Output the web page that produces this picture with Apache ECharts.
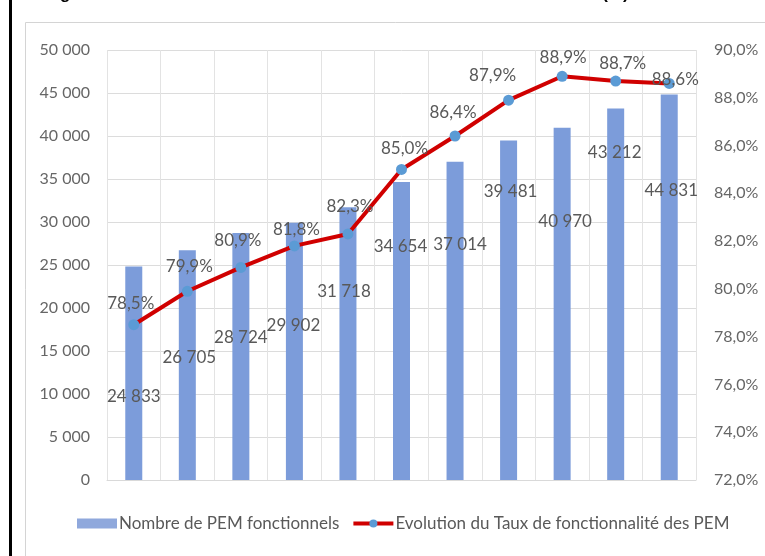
<!DOCTYPE html>
<html>
<head>
<meta charset="utf-8">
<script src="https://cdn.jsdelivr.net/npm/echarts@6/dist/echarts.min.js"></script>
<style>
  html, body { margin: 0; padding: 0; background: #fff; }
  #chart { width: 765px; height: 556px; }
</style>
</head>
<body>
<div id="chart"></div>
<script>
// Eleven observation points (axis labels are not shown)
const categories = ['1', '2', '3', '4', '5', '6', '7', '8', '9', '10', '11'];

// Number of functioning water points
const pemCount = [24833, 26705, 28724, 29902, 31718, 34654, 37014, 39481, 40970, 43212, 44831];

// Functionality rate (%)
const pemRate = [78.5, 79.9, 80.9, 81.8, 82.3, 85.0, 86.4, 87.9, 88.9, 88.7, 88.6];

// Axis ticks
const leftTicks = [0, 5000, 10000, 15000, 20000, 25000, 30000, 35000, 40000, 45000, 50000];
const rightTicks = [72, 74, 76, 78, 80, 82, 84, 86, 88, 90];

// Hand-placed label positions (px): bar labels [dx, dy from bar top], line labels [dx, dy from point]
const barLabelPos = [[0, 130], [2, 107], [0, 105], [-1, 103], [-4, 84], [-1, 65], [5, 83], [2, 51], [3, 94], [-1, 44], [2, 96]];
const lineLabelPos = [[-3, -21], [2, -25], [-3, -27], [2, -16], [2, -27], [3, -21], [-2, -23], [-16, -25], [1, -19], [7, -18], [6, -4]];

const fmtInt = v => String(v).replace(/\B(?=(\d{3})+(?!\d))/g, ' ');
const fmtPct = v => v.toFixed(1).replace('.', ',') + '%';

const FONT = 'Lato, "Open Sans", sans-serif';
const GREY = '#595959';

const barData = pemCount.map((v, i) => ({
  value: v,
  label: {
    position: [barLabelPos[i][0] + 8.5, barLabelPos[i][1]]
  }
}));

const lineData = pemRate.map((v, i) => ({
  value: v,
  label: { offset: lineLabelPos[i] }
}));

const chart = echarts.init(document.getElementById('chart'), null, { renderer: 'canvas' });

chart.setOption({
  backgroundColor: '#ffffff',
  animation: false,
  graphic: [
    { type: 'rect', shape: { x: 9, y: 0, width: 3, height: 556 }, style: { fill: '#000' }, silent: true },
    { type: 'rect', shape: { x: 25.5, y: 22.5, width: 760, height: 560 }, style: { fill: 'none', stroke: '#d4d4d4', lineWidth: 1 }, silent: true },
    {
      type: 'text', left: 45, top: -14,
      style: {
        text: 'Figure 3 : Evolution du nombre et du taux de fonctionnalité des PEM (%)',
        font: 'bold 17px "Liberation Sans", Arial, sans-serif', fill: '#000'
      },
      silent: true
    }
  ],
  grid: { left: 107, right: 69, top: 50, bottom: 76 },
  legend: {
    bottom: 19,
    left: 72,
    itemGap: 12,
    itemWidth: 40,
    itemHeight: 10,
    textStyle: { fontFamily: FONT, fontSize: 17, color: GREY, padding: [0, 0, 0, -3] },
    data: [
      { name: 'Nombre de PEM fonctionnels', icon: 'rect', itemStyle: { color: '#8fa8dc' } },
      { name: 'Evolution du Taux de fonctionnalité des PEM', lineStyle: { width: 4, color: '#d00000' } }
    ]
  },
  xAxis: {
    type: 'category',
    data: categories,
    boundaryGap: true,
    axisLine: { show: true, lineStyle: { color: '#d9d9d9' } },
    axisTick: { show: false },
    axisLabel: { show: false },
    splitLine: { show: true, lineStyle: { color: '#e3e3e3', width: 1 } }
  },
  yAxis: [
    {
      type: 'value',
      min: leftTicks[0],
      max: leftTicks[leftTicks.length - 1],
      interval: leftTicks[1] - leftTicks[0],
      axisLine: { show: false },
      axisTick: { show: false },
      axisLabel: { margin: 17, fontFamily: FONT, fontSize: 16, color: '#666', formatter: fmtInt },
      splitLine: { show: true, lineStyle: { color: '#dcdcdc', width: 1 } }
    },
    {
      type: 'value',
      min: rightTicks[0],
      max: rightTicks[rightTicks.length - 1],
      interval: rightTicks[1] - rightTicks[0],
      axisLine: { show: false },
      axisTick: { show: false },
      axisLabel: { margin: 18, fontFamily: FONT, fontSize: 16, color: '#666', formatter: v => v.toFixed(1).replace('.', ',') + '%' },
      splitLine: { show: false }
    }
  ],
  series: [
    {
      name: 'Nombre de PEM fonctionnels',
      type: 'bar',
      yAxisIndex: 0,
      data: barData,
      barWidth: 17,
      itemStyle: { color: '#7c9cda' },
      label: {
        show: true,
        align: 'center',
        verticalAlign: 'middle',
        fontFamily: FONT,
        fontSize: 17,
        color: GREY,
        formatter: p => fmtInt(p.value)
      },
      z: 2
    },
    {
      name: 'Evolution du Taux de fonctionnalité des PEM',
      type: 'line',
      yAxisIndex: 1,
      data: lineData,
      symbol: 'circle',
      symbolSize: 11,
      itemStyle: { color: '#5b9bd5' },
      lineStyle: { color: '#d00000', width: 4 },
      label: {
        show: true,
        position: 'inside',
        align: 'center',
        verticalAlign: 'middle',
        fontFamily: FONT,
        fontSize: 17,
        color: GREY,
        formatter: p => fmtPct(p.value)
      },
      z: 3
    }
  ]
});
</script>
</body>
</html>
